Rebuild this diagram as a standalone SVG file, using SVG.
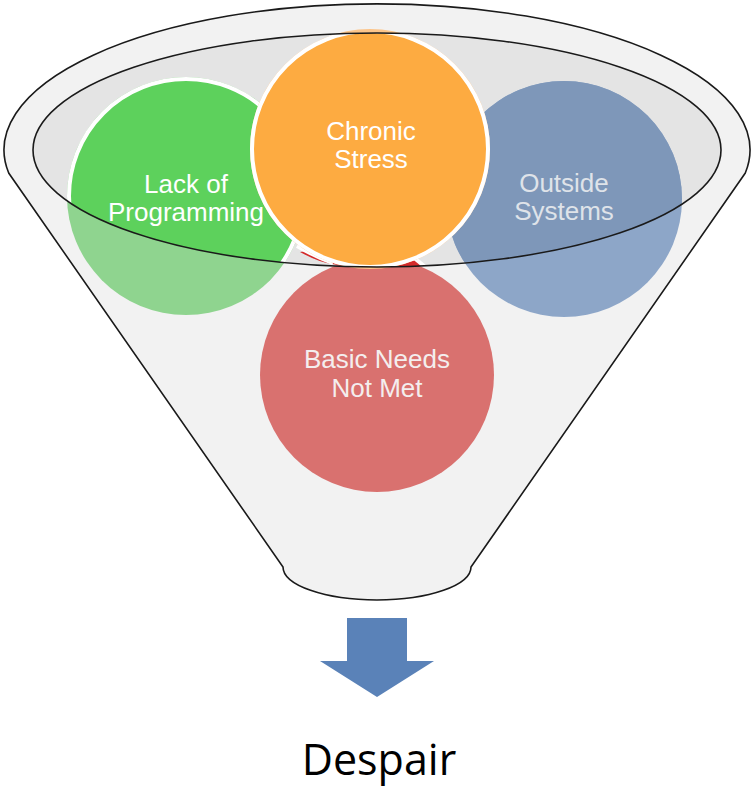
<svg xmlns="http://www.w3.org/2000/svg" width="751" height="787" viewBox="0 0 751 787">
<style>
.lbl{font-family:"Liberation Sans",Arial,sans-serif;font-size:26px;text-anchor:middle}
.line{fill:none;stroke:#1a1a1a;stroke-width:1.6}
</style>
<defs>
<clipPath id="inner"><ellipse cx="377" cy="150" rx="344" ry="117"/></clipPath>
</defs>
<rect width="751" height="787" fill="#ffffff"/>
<g id="funnel">
<path d="M 8.7 173 A 373 146 0 1 1 745.3 173 L 471 567 A 94 33 0 0 1 283 567 Z" fill="#f2f2f2"/>
<ellipse cx="377" cy="150" rx="344" ry="117" fill="#e4e4e4"/>
</g>
<g id="node-basic-needs">
<circle cx="377" cy="375" r="117" fill="#d9716f"/>
<g clip-path="url(#inner)">
<path d="M 300 252 Q 318 262 332 264 L 377 272 L 432 272 L 414 256 L 377 240 Z" fill="#d42b2b"/>
<path d="M 297 246 Q 316 257 333 263" fill="none" stroke="#ffffff" stroke-width="4"/>
<path d="M 412 256 L 430 271" fill="none" stroke="#ffffff" stroke-width="4"/>
</g>
</g>
<g id="node-lack-of-programming">
<circle cx="186" cy="196" r="119" fill="#8fd48f"/>
<g clip-path="url(#inner)">
<circle cx="186" cy="196" r="117" fill="#5dd15c" stroke="#ffffff" stroke-width="4"/>
</g>
</g>
<g id="node-outside-systems">
<circle cx="564" cy="199" r="118" fill="#8da6c8"/>
<g clip-path="url(#inner)">
<circle cx="564" cy="199" r="118" fill="#7e97b9"/>
</g>
</g>
<g id="node-chronic-stress">
<circle cx="370" cy="149" r="120" fill="#fcc58a"/>
<g clip-path="url(#inner)">
<circle cx="370" cy="149" r="118" fill="#fdab41" stroke="#ffffff" stroke-width="4"/>
</g>
</g>
<g id="outlines">
<ellipse class="line" cx="377" cy="150" rx="344" ry="117"/>
<path class="line" d="M 8.7 173 A 373 146 0 1 1 745.3 173 L 471 567 A 94 33 0 0 1 283 567 Z"/>
</g>
<g id="labels">
<text class="lbl" x="186" y="193" fill="#ffffff">Lack of</text>
<text class="lbl" x="186" y="220.5" fill="#ffffff">Programming</text>
<text class="lbl" x="371" y="140" fill="#ffffff">Chronic</text>
<text class="lbl" x="371" y="168" fill="#ffffff">Stress</text>
<text class="lbl" x="564" y="192" fill="#dfe3e9">Outside</text>
<text class="lbl" x="564" y="220" fill="#dfe3e9">Systems</text>
<text class="lbl" x="377" y="368" fill="#f4eeee">Basic Needs</text>
<text class="lbl" x="377" y="396.5" fill="#f4eeee">Not Met</text>
</g>
<g id="connectors">
<polygon points="347,618 407,618 407,661 434,661 377,697 320,661 347,661" fill="#5a82b8"/>
</g>
<g id="node-despair">
<text x="379" y="775" font-family="'Open Sans','Noto Sans',sans-serif" font-size="43" text-anchor="middle" fill="#000000">Despair</text>
</g>
</svg>
